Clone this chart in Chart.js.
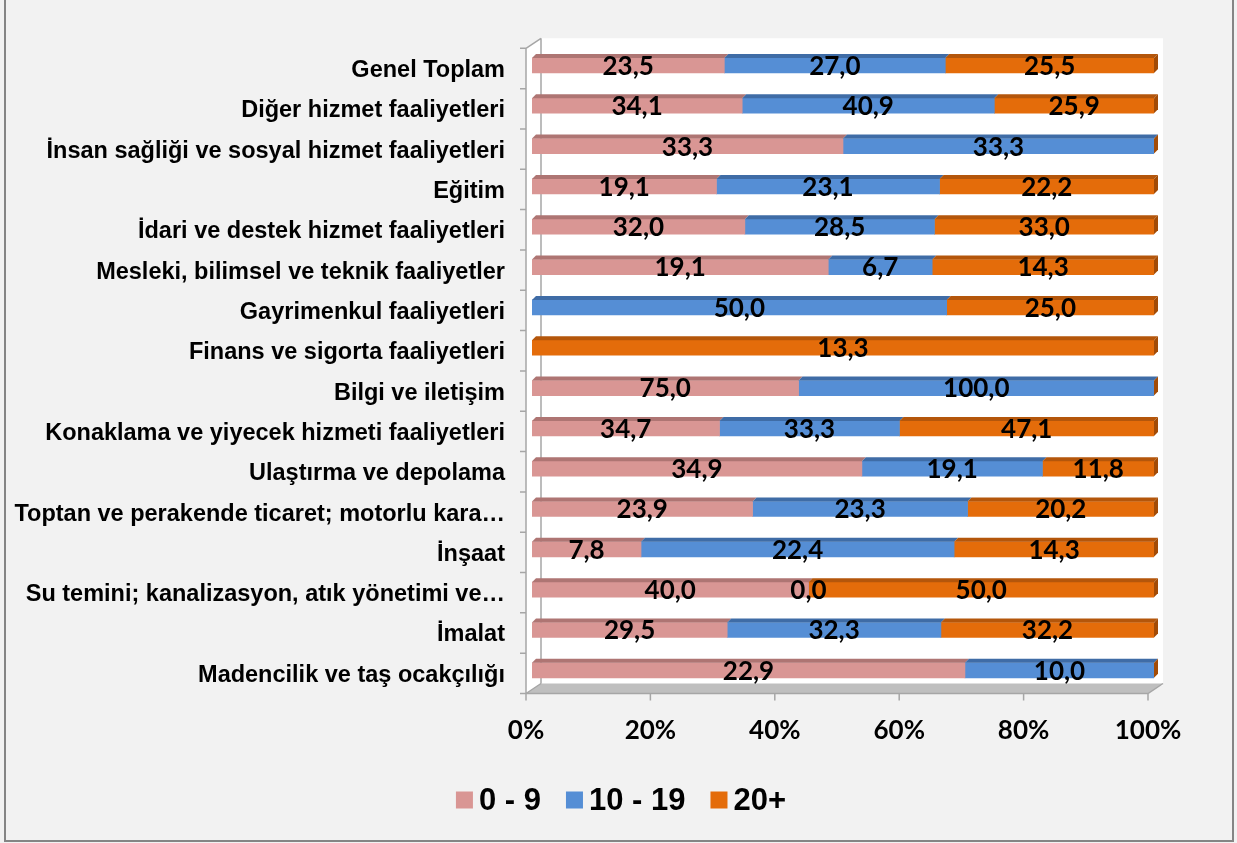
<!DOCTYPE html>
<html>
<head>
<meta charset="utf-8">
<script src="https://cdn.jsdelivr.net/npm/chart.js@4/dist/chart.umd.min.js"></script>
<style>
html,body{margin:0;padding:0;background:#F2F2F2;}
#wrap{width:1237px;height:843px;position:relative;}
</style>
</head>
<body>
<div id="wrap"><canvas id="c" width="1237" height="843"></canvas></div>
<script>
const categories = [
  "Genel Toplam",
  "Diğer hizmet faaliyetleri",
  "İnsan sağliği ve sosyal hizmet faaliyetleri",
  "Eğitim",
  "İdari ve destek hizmet faaliyetleri",
  "Mesleki, bilimsel ve teknik faaliyetler",
  "Gayrimenkul faaliyetleri",
  "Finans ve sigorta faaliyetleri",
  "Bilgi ve iletişim",
  "Konaklama ve yiyecek hizmeti faaliyetleri",
  "Ulaştırma ve depolama",
  "Toptan ve perakende ticaret; motorlu kara…",
  "İnşaat",
  "Su temini; kanalizasyon, atık yönetimi ve…",
  "İmalat",
  "Madencilik ve taş ocakçılığı"
];
const series0to9   = [23.5, 34.1, 33.3, 19.1, 32.0, 19.1, null, null, 75.0, 34.7, 34.9, 23.9, 7.8, 40.0, 29.5, 22.9];
const series10to19 = [27.0, 40.9, 33.3, 23.1, 28.5, 6.7, 50.0, null, 100.0, 33.3, 19.1, 23.3, 22.4, 0.0, 32.3, 10.0];
const series20plus = [25.5, 25.9, null, 22.2, 33.0, 14.3, 25.0, 13.3, null, 47.1, 11.8, 20.2, 14.3, 50.0, 32.2, null];
const seriesNames = ["0 - 9", "10 - 19", "20+"];
const xTickValues = [0, 20, 40, 60, 80, 100];
const xTickLabels = ["0%", "20%", "40%", "60%", "80%", "100%"];

const raw = [series0to9, series10to19, series20plus];
const totals = categories.map((_, i) => raw.reduce((s, arr) => s + (arr[i] || 0), 0));
const pct = arr => arr.map((v, i) => v == null ? null : v / totals[i] * 100);

const fronts = ["#D99694", "#558ED5", "#E46C0A"];
const tops   = ["#AE7573", "#3F6CA6", "#B4560B"];
const capColor = "#A24B06";
const D = 4;

const deco = {
  id: 'deco',
  beforeDraw(chart) {
    const ctx = chart.ctx, a = chart.chartArea;
    ctx.save();
    ctx.fillStyle = "#F2F2F2";
    ctx.fillRect(0, 0, chart.width, chart.height);
    ctx.strokeStyle = "#858585";
    ctx.lineWidth = 2;
    ctx.strokeRect(5, -5, 1228, 846);
    const fx = -6, fy = 3, bx = 9, by = -7;
    ctx.fillStyle = "#FFFFFF";
    ctx.beginPath();
    ctx.moveTo(a.left + fx, a.top + fy);
    ctx.lineTo(a.left + bx, a.top + by);
    ctx.lineTo(a.right + bx, a.top + by);
    ctx.lineTo(a.right + bx, a.bottom + by + 2);
    ctx.lineTo(a.left + fx, a.bottom + fy);
    ctx.closePath();
    ctx.fill();
    ctx.fillStyle = "#BFBFBF";
    ctx.beginPath();
    ctx.moveTo(a.left + fx, a.bottom + fy);
    ctx.lineTo(a.left + bx, a.bottom + by);
    ctx.lineTo(a.right + bx, a.bottom + by);
    ctx.lineTo(a.right + fx, a.bottom + fy);
    ctx.closePath();
    ctx.fill();
    ctx.strokeStyle = "#A6A6A6";
    ctx.lineWidth = 1.5;
    ctx.beginPath();
    ctx.moveTo(a.left + bx, a.top + by);
    ctx.lineTo(a.left + bx, a.bottom + by);
    ctx.moveTo(a.left + fx, a.top + fy);
    ctx.lineTo(a.left + bx, a.top + by);
    ctx.moveTo(a.left + fx, a.top + fy);
    ctx.lineTo(a.left + fx, a.bottom + fy);
    ctx.lineTo(a.right + fx, a.bottom + fy);
    ctx.lineTo(a.right + bx, a.bottom + by);
    ctx.moveTo(a.left + fx, a.bottom + fy);
    ctx.lineTo(a.left + bx, a.bottom + by);
    const n = categories.length, band = (a.bottom - a.top) / n;
    for (let i = 0; i <= n; i++) {
      const y = a.top + fy + i * band;
      ctx.moveTo(a.left + fx - 6, y);
      ctx.lineTo(a.left + fx, y);
    }
    const xs = chart.scales.x;
    xTickValues.forEach(v => {
      const x = xs.getPixelForValue(v) + fx;
      ctx.moveTo(x, a.bottom + fy);
      ctx.lineTo(x, a.bottom + fy + 7);
    });
    ctx.stroke();
    ctx.restore();
  },
  afterDatasetsDraw(chart) {
    const ctx = chart.ctx;
    ctx.save();
    const lastRight = {};
    chart.data.datasets.forEach((ds, di) => {
      const meta = chart.getDatasetMeta(di);
      meta.data.forEach((el, i) => {
        const v = raw[di][i];
        if (v == null || v === 0) return;
        const p = el.getProps(['x', 'y', 'base', 'height'], true);
        const l = Math.min(p.x, p.base), r = Math.max(p.x, p.base);
        const t = p.y - p.height / 2;
        ctx.fillStyle = tops[di];
        ctx.beginPath();
        ctx.moveTo(l, t);
        ctx.lineTo(l + D, t - D);
        ctx.lineTo(r + D, t - D);
        ctx.lineTo(r, t);
        ctx.closePath();
        ctx.fill();
        lastRight[i] = {r, t, b: t + p.height};
      });
    });
    Object.values(lastRight).forEach(o => {
      ctx.fillStyle = capColor;
      ctx.beginPath();
      ctx.moveTo(o.r, o.t);
      ctx.lineTo(o.r + D, o.t - D);
      ctx.lineTo(o.r + D, o.b - D);
      ctx.lineTo(o.r, o.b);
      ctx.closePath();
      ctx.fill();
    });
    ctx.fillStyle = "#000000";
    ctx.font = "bold 26px Lato";
    ctx.textAlign = "center";
    ctx.textBaseline = "middle";
    chart.data.datasets.forEach((ds, di) => {
      const meta = chart.getDatasetMeta(di);
      meta.data.forEach((el, i) => {
        const v = raw[di][i];
        if (v == null) return;
        const p = el.getProps(['x', 'y', 'base'], true);
        const cx = (p.x + p.base) / 2;
        ctx.fillText(v.toFixed(1).replace('.', ','), cx, p.y + 1);
      });
    });
    ctx.restore();
  },
  afterDraw(chart) {
    const ctx = chart.ctx, xs = chart.scales.x;
    ctx.save();
    ctx.fillStyle = "#000000";
    ctx.font = "bold 26px Lato";
    ctx.textAlign = "center";
    ctx.textBaseline = "middle";
    xTickValues.forEach((v, k) => {
      ctx.fillText(xTickLabels[k], xs.getPixelForValue(v) - 6, 731);
    });
    ctx.font = "bold 31px 'Liberation Sans'";
    ctx.textAlign = "left";
    const box = 17, gap = 6, itemGap = 25;
    const widths = seriesNames.map(s => box + gap + ctx.measureText(s).width);
    const total = widths.reduce((s, w) => s + w, 0) + itemGap * (seriesNames.length - 1);
    let x = 621 - total / 2;
    const y = 800;
    seriesNames.forEach((s, k) => {
      ctx.fillStyle = fronts[k];
      ctx.fillRect(x, y - box / 2, box, box);
      ctx.fillStyle = "#000000";
      ctx.fillText(s, x + box + gap, y + 1);
      x += widths[k] + itemGap;
    });
    ctx.restore();
  }
};

new Chart(document.getElementById('c'), {
  type: 'bar',
  data: {
    labels: categories,
    datasets: raw.map((arr, k) => ({
      label: seriesNames[k],
      data: pct(arr),
      backgroundColor: fronts[k],
      borderWidth: 0,
      barThickness: 15
    }))
  },
  options: {
    indexAxis: 'y',
    responsive: false,
    animation: false,
    layout: { padding: { left: 0, right: 83, top: 45.3, bottom: 152.5 } },
    plugins: { legend: { display: false }, tooltip: { enabled: false } },
    scales: {
      x: { stacked: true, min: 0, max: 100, display: false },
      y: {
        stacked: true,
        grid: { display: false, drawTicks: false },
        border: { display: false },
        ticks: {
          padding: 27,
          labelOffset: 5,
          color: "#000000",
          font: { family: "'Liberation Sans'", weight: 'bold', size: 23.5 },
          autoSkip: false
        },
        afterFit(s) { s.width = 532; }
      }
    }
  },
  plugins: [deco]
});
</script>
</body>
</html>
